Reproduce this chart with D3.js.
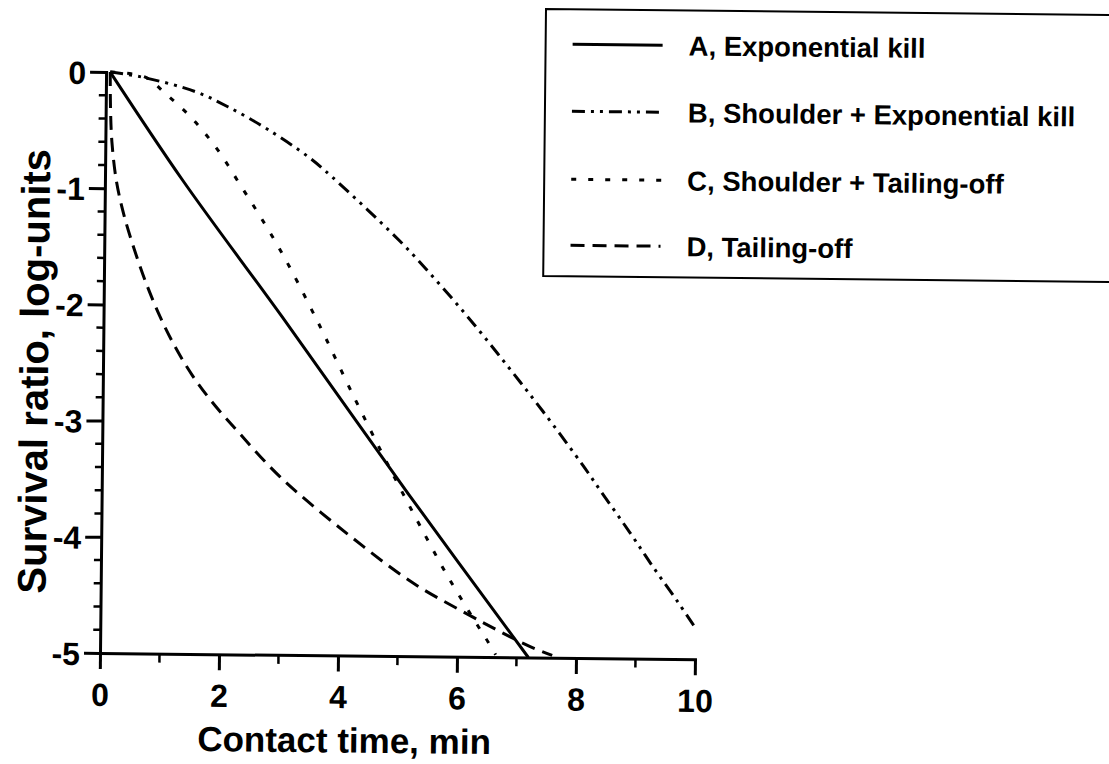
<!DOCTYPE html>
<html><head><meta charset="utf-8">
<script src="https://cdn.jsdelivr.net/npm/d3@7/dist/d3.min.js"></script>
<style>
html,body{margin:0;padding:0;background:#fff;}
text{font-family:"Liberation Sans",Arial,Helvetica,sans-serif;font-weight:bold;fill:#000;}
</style></head>
<body><svg id="chart" width="1109" height="764"></svg>
<script>
// ---------- data ----------
const xMajorTicks = [0, 2, 4, 6, 8, 10];
const xMinorTicks = [1, 3, 5, 7, 9];
const yMajorTicks = [0, -1, -2, -3, -4, -5];
const yMinorTicks = [-0.2,-0.4,-0.6,-0.8,-1.2,-1.4,-1.6,-1.8,-2.2,-2.4,-2.6,-2.8,-3.2,-3.4,-3.6,-3.8,-4.2,-4.4,-4.6,-4.8];

const seriesNames = ["A, Exponential kill", "B, Shoulder + Exponential kill", "C, Shoulder + Tailing-off", "D, Tailing-off"];

const curveA = [[0.07,0],[1.3,-0.92],[3.0,-2.09],[5.15,-3.6],[7.2,-5.0]];
const curveB = [[0.07,0],[0.6,-0.04],[1.5,-0.16],[2.06,-0.29],[2.73,-0.48],[3.41,-0.71],[3.7,-0.83],[4.97,-1.43],[5.65,-1.8],[6.28,-2.17],[6.84,-2.52],[7.4,-2.88],[8.08,-3.34],[8.37,-3.55],[8.89,-3.92],[9.28,-4.21],[9.69,-4.5],[10,-4.73]];
const curveC = [[0.07,0],[0.66,-0.04],[0.99,-0.175],[1.45,-0.39],[1.89,-0.66],[2.3,-0.98],[2.58,-1.2],[2.87,-1.44],[3.16,-1.7],[3.55,-2.08],[3.69,-2.22],[4.21,-2.76],[4.67,-3.22],[5.01,-3.55],[5.36,-3.88],[5.82,-4.3],[6.38,-4.76],[6.52,-4.87],[6.65,-4.98]];
const curveD = [[0.07,0],[0.08,-0.3],[0.11,-0.6],[0.19,-0.93],[0.31,-1.2],[0.47,-1.47],[0.7,-1.8],[0.95,-2.1],[1.2,-2.35],[1.5,-2.6],[1.84,-2.83],[2.31,-3.1],[3.0,-3.47],[4.13,-3.95],[5.25,-4.37],[6.16,-4.63],[6.72,-4.78],[7.2,-4.9],[7.6,-4.98]];

// ---------- layout ----------
const ROT = 0.6;               // scan skew, degrees
const OX = 100, OY = 653;      // plot origin
const svg = d3.select("#chart");
const root = svg.append("g").attr("transform", `rotate(${ROT},${OX},${OY})`);
const rad = ROT * Math.PI / 180;
function unrot(px, py) {
  const dx = px - OX, dy = py - OY;
  return [OX + dx * Math.cos(rad) + dy * Math.sin(rad), OY - dx * Math.sin(rad) + dy * Math.cos(rad)];
}

const x = d3.scaleLinear().domain([0, 10]).range([100, 695]);
const y = d3.scaleLinear().domain([-5, 0]).range([653, 72]);

const FONT_TICK = 32;

// y axis
const yAxis = root.append("g").attr("transform", `translate(${x(0)},0)`)
  .call(d3.axisLeft(y).tickValues(yMajorTicks).tickSize(16).tickSizeOuter(0).tickPadding(4).tickFormat(d => String(d)));
yAxis.select(".domain").attr("stroke", "#000").attr("stroke-width", 3);
yAxis.selectAll(".tick line").attr("stroke", "#000").attr("stroke-width", 3);
yAxis.selectAll(".tick text").style("font-size", FONT_TICK + "px").attr("dy", "0.36em");
yAxis.selectAll(".minor").data(yMinorTicks).join("line").attr("class", "minor")
  .attr("x1", -7).attr("x2", 0).attr("y1", d => y(d)).attr("y2", d => y(d))
  .attr("stroke", "#000").attr("stroke-width", 2.5);

// x axis
const xAxis = root.append("g").attr("transform", `translate(0,${y(-5)})`)
  .call(d3.axisBottom(x).tickValues(xMajorTicks).tickSize(16).tickSizeOuter(0).tickPadding(14).tickFormat(d => String(d)));
xAxis.select(".domain").attr("stroke", "#000").attr("stroke-width", 3);
xAxis.selectAll(".tick line").attr("stroke", "#000").attr("stroke-width", 3);
xAxis.selectAll(".tick text").style("font-size", FONT_TICK + "px");
xAxis.selectAll(".minor").data(xMinorTicks).join("line").attr("class", "minor")
  .attr("y1", 0).attr("y2", 9).attr("x1", d => x(d)).attr("x2", d => x(d))
  .attr("stroke", "#000").attr("stroke-width", 2.5);
root.selectAll(".domain").attr("stroke-linecap", "square");

// axis titles
root.append("text").attr("x", 345).attr("y", 750).attr("text-anchor", "middle")
  .style("font-size", "35px").text("Contact time, min");
root.append("text").attr("transform", "translate(45,372) rotate(-90)").attr("text-anchor", "middle")
  .style("font-size", "40px").text("Survival ratio, log-units");

// curves
const styles = [
  {data: curveA, dash: null},
  {data: curveB, dash: "13,6,3,6,3,6"},
  {data: curveC, dash: "5,12"},
  {data: curveD, dash: "14,8"}
];
const line = d3.line().x(d => x(d[0])).y(d => y(d[1])).curve(d3.curveCatmullRom.alpha(0.5));
root.selectAll(".curve").data(styles).join("path").attr("class", "curve")
  .attr("d", d => line(d.data)).attr("fill", "none").attr("stroke", "#000")
  .attr("stroke-width", 3).attr("stroke-dasharray", d => d.dash);

// legend
const legPos = unrot(546, 9);
const leg = root.append("g").attr("transform", `translate(${legPos[0]},${legPos[1]})`);
leg.append("path").attr("d", "M600,0 H0 V267 H620").attr("fill", "none").attr("stroke", "#000").attr("stroke-width", 2);
const rowY = [35, 102, 170, 236];
const legDash = ["", "13,6,3,6,3,6", "5,12", "14,8"];
seriesNames.forEach((name, i) => {
  leg.append("line").attr("x1", 27).attr("x2", 117).attr("y1", rowY[i]).attr("y2", rowY[i])
    .attr("stroke", "#000").attr("stroke-width", 3).attr("stroke-dasharray", legDash[i] || null);
  leg.append("text").attr("x", 143).attr("y", rowY[i]).attr("dy", "0.36em")
    .style("font-size", "27.5px").text(name);
});
</script></body></html>
